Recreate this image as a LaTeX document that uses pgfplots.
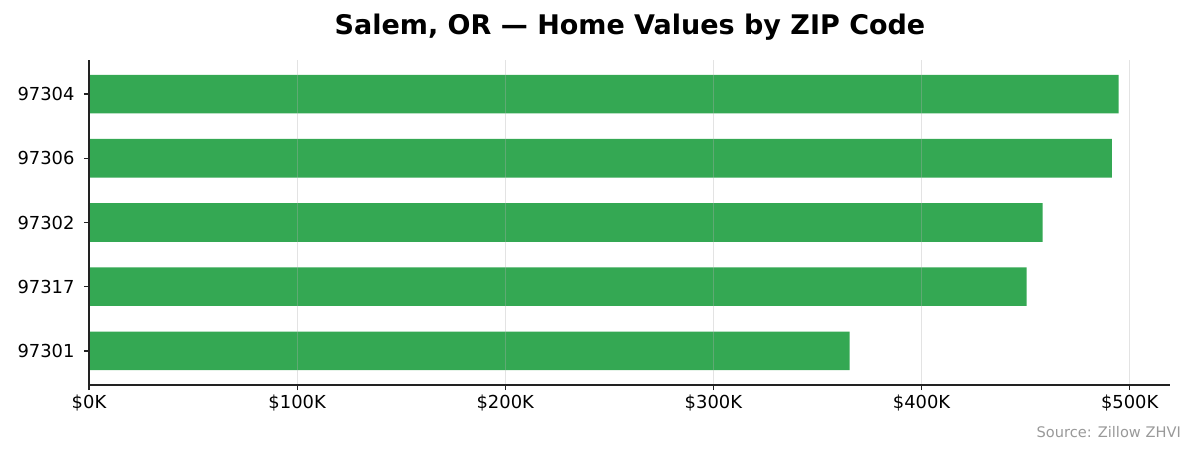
\documentclass[border=0pt]{standalone}
\usepackage{pgfplots}
\pgfplotsset{compat=1.18}
\usepackage{fontspec}
\setmainfont{DejaVu Sans}
\definecolor{bargreen}{HTML}{34A853}
\definecolor{spine}{HTML}{222222}
\definecolor{srcgray}{HTML}{999999}

\begin{document}
\begin{tikzpicture}
  \useasboundingbox (0,0) rectangle (1195bp,455bp);
  \begin{axis}[
      at={(89bp,70bp)}, anchor=south west,
      scale only axis,
      width=1081bp, height=325bp,
      xbar, bar width=0.6,
      xmin=0, xmax=519.4,
      ymin=-0.53, ymax=4.53,
      axis x line*=bottom, axis y line*=left,
      axis line style={spine, line width=1.1bp, -},
      axis on top=true,
      xtick={0,100,200,300,400,500},
      xticklabels={\$0K,\$100K,\$200K,\$300K,\$400K,\$500K},
      ytick={0,1,2,3,4},
      yticklabels={97301,97317,97302,97306,97304},
      tick align=outside,
      major tick length=5bp,
      tick style={spine, line width=1.1bp},
      ticklabel style={font=\fontsize{17.9bp}{20bp}\selectfont},
      yticklabel style={xshift=-6bp},
      xticklabel style={yshift=-1bp},
      xmajorgrids,
      major grid style={color=black!31, opacity=0.35, line width=1.2bp},
    ]
    \addplot[fill=bargreen, draw=none] coordinates {
      (365.5,0) (450.5,1) (458.2,2) (491.4,3) (494.7,4)
    };
  \end{axis}
  \node[anchor=base, font=\fontsize{27bp}{30bp}\selectfont\bfseries]
    at (630bp,420bp) {Salem, OR — Home Values by ZIP Code};
  \node[anchor=base east, inner sep=0pt, text=srcgray,
        font=\fontsize{14.6bp}{16bp}\selectfont]
    at (1181bp,18bp) {Source: Zillow ZHVI};
\end{tikzpicture}
\end{document}
